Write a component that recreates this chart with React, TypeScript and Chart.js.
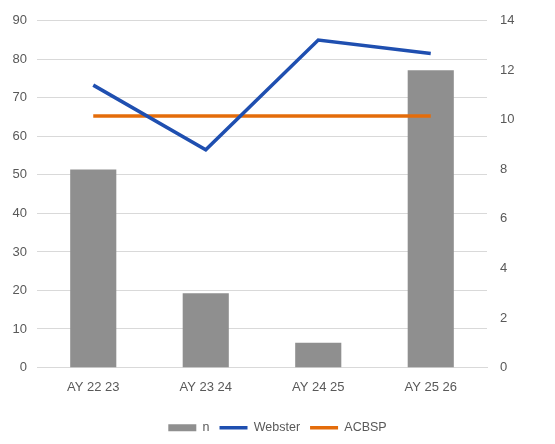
import React, { useEffect, useRef } from "react";
import { Chart, registerables } from "chart.js";

Chart.register(...registerables);

const categories = ["AY 22 23", "AY 23 24", "AY 24 25", "AY 25 26"];
const nValues = [8, 3, 1, 12];
const websterValues = [73.3, 56.5, 85, 81.5];
const acbspValues = [65.3, 65.3, 65.3, 65.3];
const leftTicks = { min: 0, max: 90, step: 10 };
const rightTicks = { min: 0, max: 14, step: 2 };

export default function App() {
  const ref = useRef<HTMLCanvasElement | null>(null);
  useEffect(() => {
    document.body.style.margin = "0";
    const font = { family: "'Liberation Sans', Arial, sans-serif", size: 13 };
    const chart = new Chart(ref.current!, {
      type: "bar",
      data: {
        labels: categories,
        datasets: [
          {
            type: "bar",
            label: "n",
            data: nValues,
            backgroundColor: "#8f8f8f",
            yAxisID: "y1",
            barPercentage: 0.41,
            categoryPercentage: 1,
            order: 2,
          },
          {
            type: "line",
            label: "Webster",
            data: websterValues,
            borderColor: "#1f4fb0",
            backgroundColor: "#1f4fb0",
            borderWidth: 3.5,
            pointRadius: 0,
            tension: 0,
            yAxisID: "y",
            order: 1,
          },
          {
            type: "line",
            label: "ACBSP",
            data: acbspValues,
            borderColor: "#e46c0a",
            backgroundColor: "#e46c0a",
            borderWidth: 3.5,
            pointRadius: 0,
            tension: 0,
            yAxisID: "y",
            order: 1,
          },
        ],
      },
      options: {
        animation: false,
        responsive: false,
        maintainAspectRatio: false,
        layout: { padding: { top: 20, left: 0, right: 0, bottom: 0 } },
        plugins: {
          tooltip: { enabled: false },
          legend: {
            position: "bottom",
            labels: {
              font: { ...font, size: 12.5 },
              color: "#595959",
              usePointStyle: true,
              pointStyleWidth: 28,
              boxWidth: 28,
              boxHeight: 7,
              padding: 10,
              sort: (a: any, b: any) => a.datasetIndex - b.datasetIndex,
              generateLabels: (c: any) =>
                Chart.defaults.plugins.legend.labels
                  .generateLabels(c)
                  .map((l: any) => ({
                    ...l,
                    pointStyle: l.datasetIndex === 0 ? "rect" : "line",
                    lineWidth: l.datasetIndex === 0 ? 0 : 3.5,
                  })),
            },
          },
        },
        scales: {
          x: {
            grid: { display: false, drawTicks: false },
            border: { display: true, color: "#d9d9d9" },
            ticks: { font, color: "#595959", padding: 12 },
            afterFit: (s: any) => { s.height = 44; },
          },
          y: {
            position: "left",
            min: leftTicks.min,
            max: leftTicks.max,
            ticks: { stepSize: leftTicks.step, font, color: "#595959", padding: 10 },
            grid: { color: "#d9d9d9", drawTicks: false },
            border: { display: false },
            afterFit: (s: any) => { s.width = 37; },
          },
          y1: {
            position: "right",
            min: rightTicks.min,
            max: rightTicks.max,
            ticks: { stepSize: rightTicks.step, font, color: "#595959", padding: 13 },
            grid: { display: false, drawTicks: false },
            border: { display: false },
            afterFit: (s: any) => { s.width = 68; },
          },
        },
      },
    });
    return () => chart.destroy();
  }, []);
  return (
    <div style={{ position: "fixed", left: 0, top: 0, width: 555, height: 444 }}>
      <canvas ref={ref} width={555} height={444} />
    </div>
  );
}
